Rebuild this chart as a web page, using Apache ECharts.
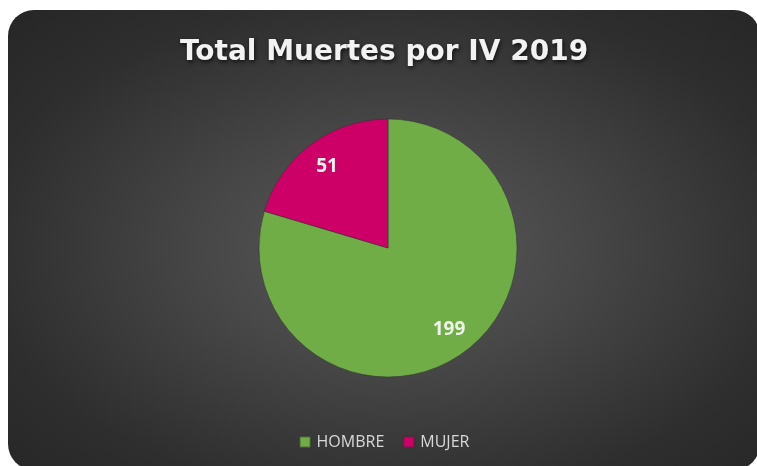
<!DOCTYPE html>
<html>
<head>
<meta charset="utf-8">
<script src="https://cdn.jsdelivr.net/npm/echarts@6/dist/echarts.min.js"></script>
<style>
  html, body { margin: 0; padding: 0; background: #fff; }
  #main {
    position: absolute; left: 8px; top: 10px; width: 752px; height: 460px;
    border-radius: 26px; overflow: hidden;
    background: radial-gradient(ellipse at 51% 52%, #5a5a5a 0%, #474747 35%, #2e2e2e 75%, #262626 100%);
  }
</style>
</head>
<body>
<div id="main"></div>
<script>
// data
const categories = ['HOMBRE', 'MUJER'];
const values = [199, 51];
const colors = ['#70AD47', '#CC0066'];

let pieData = categories.map((name, i) => ({ name: name, value: values[i], itemStyle: { color: colors[i] } }));

let myChart = echarts.init(document.getElementById('main'));

let options = {
  backgroundColor: 'transparent',
  title: {
    text: 'Total Muertes por IV 2019',
    left: 'center',
    top: 24,
    textStyle: {
      fontFamily: 'DejaVu Sans',
      fontWeight: 'bold',
      fontSize: 28,
      color: '#f2f2f2',
      textShadowColor: 'rgba(0,0,0,0.7)',
      textShadowBlur: 4,
      textShadowOffsetX: 1,
      textShadowOffsetY: 2
    }
  },
  legend: {
    data: categories,
    bottom: 15,
    left: 'center',
    itemWidth: 11,
    itemHeight: 11,
    itemGap: 18,
    icon: 'rect',
    textStyle: { color: '#d9d9d9', fontSize: 16, fontFamily: 'Open Sans', padding: [0, 0, 0, 1] }
  },
  series: [
    {
      type: 'pie',
      center: [380, 238],
      radius: 129,
      startAngle: 90,
      clockwise: true,
      data: pieData,
      label: { show: false },
      labelLine: { show: false },
      itemStyle: { borderColor: 'rgba(50,50,50,0.5)', borderWidth: 1 },
      emphasis: { disabled: true }
    },
    {
      // transparent copy, only used to place value labels further out
      type: 'pie',
      center: [380, 238],
      radius: 198,
      startAngle: 90,
      clockwise: true,
      silent: true,
      data: categories.map((name, i) => ({ name: name, value: values[i] })),
      itemStyle: { color: 'rgba(0,0,0,0)' },
      label: {
        show: true,
        position: 'inside',
        formatter: '{c}',
        color: '#eef3ea',
        fontSize: 19,
        fontWeight: 'bold',
        fontFamily: 'Open Sans'
      },
      labelLine: { show: false },
      emphasis: { disabled: true }
    }
  ]
};

myChart.setOption(options);
</script>
</body>
</html>
